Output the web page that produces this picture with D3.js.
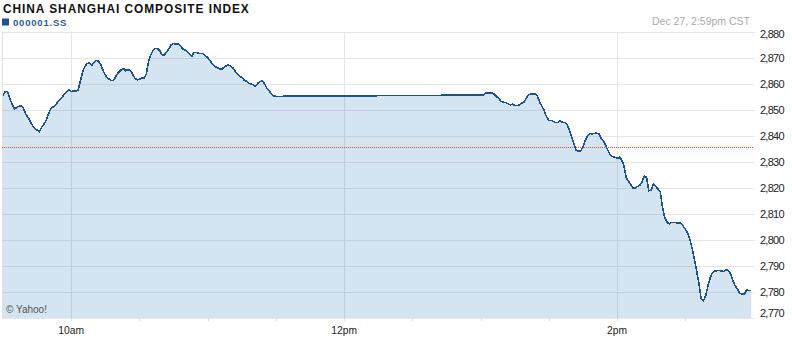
<!DOCTYPE html>
<html>
<head>
<meta charset="utf-8">
<script src="https://cdn.jsdelivr.net/npm/d3@7/dist/d3.min.js"></script>
<style>
  html, body { margin: 0; padding: 0; background: #fff; }
  svg { display: block; }
  text { font-family: "Liberation Sans", Arial, sans-serif; }
</style>
</head>
<body>
<svg id="chart" width="792" height="338"></svg>
<script>
// ---- data ----
const title = "CHINA SHANGHAI COMPOSITE INDEX";
const symbol = "000001.SS";
const stamp = "Dec 27, 2:59pm CST";
const credit = "\u00A9 Yahoo!";
const previousClose = 2835.6;

const yTicks = [2770, 2780, 2790, 2800, 2810, 2820, 2830, 2840, 2850, 2860, 2870, 2880];
const xLabelTimes = ["10:00", "12:00", "14:00"];
const xLabels = ["10am", "12pm", "2pm"];
const xMinorTimes = ["10:00", "10:30", "11:00", "11:30", "12:00", "12:30", "13:00", "13:30", "14:00", "14:30"];

// morning session 09:30 - 11:30 (one value per minute)
const morningStart = "09:30";
const morningValues = [
  2855.4, 2857.0, 2857.0, 2854.2, 2852.2, 2850.3, 2850.7, 2851.3, 2851.6, 2850.5,
  2848.4, 2847.0, 2845.5, 2843.8, 2842.9, 2842.1, 2841.5, 2843.3, 2844.4, 2845.9,
  2848.3, 2850.4, 2851.0, 2851.6, 2852.8, 2853.8, 2854.7, 2856.0, 2856.9, 2857.6,
  2857.0, 2857.1, 2857.2, 2857.3, 2860.8, 2864.5, 2866.5, 2867.7, 2868.0, 2867.0,
  2868.2, 2868.9, 2868.6, 2867.3, 2865.0, 2863.3, 2862.1, 2861.5, 2861.1, 2861.6,
  2863.5, 2864.4, 2865.3, 2865.8, 2864.9, 2865.4, 2865.1, 2863.6, 2862.1, 2861.4,
  2861.6, 2862.2, 2862.2, 2863.6, 2868.4, 2871.0, 2872.7, 2873.5, 2873.4, 2872.6,
  2871.0, 2871.0, 2872.3, 2873.4, 2875.0, 2875.4, 2875.1, 2875.3, 2874.4, 2873.4,
  2872.9, 2872.2, 2871.4, 2870.5, 2872.0, 2871.9, 2871.6, 2871.5, 2871.5, 2870.6,
  2870.0, 2868.8, 2867.6, 2866.6, 2866.2, 2865.8, 2865.4, 2866.2, 2866.7, 2867.2,
  2866.8, 2866.1, 2864.9, 2863.7, 2863.0, 2862.3, 2861.4, 2860.9, 2860.1, 2859.9,
  2859.5, 2858.9, 2860.1, 2860.7, 2861.1, 2860.0, 2858.3, 2857.4, 2856.0, 2855.2,
  2855.1
];

// afternoon session 13:00 - 14:59 (one value per minute)
const afternoonStart = "13:00";
const afternoonValues = [
  2855.6, 2855.6, 2856.3, 2856.4, 2856.4, 2856.5, 2856.0, 2855.0, 2854.3, 2853.2,
  2852.9, 2852.7, 2852.3, 2851.8, 2852.1, 2851.6, 2851.5, 2851.8, 2852.5, 2852.8,
  2854.3, 2855.5, 2856.1, 2855.9, 2856.2, 2855.2, 2852.8, 2851.2, 2849.6, 2847.2,
  2845.9, 2845.9, 2845.5, 2845.0, 2845.1, 2845.7, 2845.1, 2845.0, 2844.4, 2842.2,
  2839.5, 2837.1, 2834.5, 2834.0, 2834.2, 2835.5, 2838.0, 2839.8, 2840.8, 2840.7,
  2840.8, 2841.0, 2840.7, 2839.0, 2838.0, 2836.3, 2834.3, 2832.6, 2832.0, 2831.8,
  2831.3, 2831.7, 2830.8, 2828.5, 2824.0, 2822.5, 2821.2, 2819.8, 2820.0, 2820.5,
  2820.9, 2822.2, 2824.6, 2824.0, 2818.8, 2819.2, 2821.5, 2820.5, 2819.5, 2818.5,
  2812.5, 2808.5, 2806.7, 2806.2, 2806.7, 2806.7, 2806.6, 2806.4, 2806.4, 2805.4,
  2804.2, 2802.6, 2800.2, 2796.8, 2792.5, 2788.2, 2783.2, 2777.3, 2776.7, 2778.6,
  2782.4, 2785.6, 2787.5, 2788.0, 2788.2, 2788.2, 2788.0, 2787.8, 2788.6, 2788.1,
  2786.8, 2784.3, 2782.2, 2781.1, 2779.4, 2779.3, 2779.0, 2780.8, 2780.5, 2780.5
];

const domainStart = "09:30";
const domainEnd = "15:00";

// ---- build ----
const parse = d3.timeParse("%H:%M");
function series(start, vals) {
  const t0 = parse(start);
  return vals.map((v, i) => ({ t: d3.timeMinute.offset(t0, i), v }));
}
const data = series(morningStart, morningValues).concat(series(afternoonStart, afternoonValues));

const svg = d3.select("#chart");
const plot = { left: 2, right: 753, top: 31.5, bottom: 318 };

const x = d3.scaleTime().domain([parse(domainStart), parse(domainEnd)]).range([3, 753.5]);
const y = d3.scaleLinear().domain([2770, 2880]).range([plot.bottom, plot.top]);

// horizontal gridlines
svg.append("g").selectAll("line").data(yTicks).join("line")
  .attr("x1", plot.left).attr("x2", 755)
  .attr("y1", d => Math.round(y(d)) + 0.5).attr("y2", d => Math.round(y(d)) + 0.5)
  .attr("stroke", "#e6e6e6").attr("stroke-width", 1);

// vertical gridlines
svg.append("g").selectAll("line").data(xLabelTimes).join("line")
  .attr("x1", d => Math.round(x(parse(d))) + 0.5).attr("x2", d => Math.round(x(parse(d))) + 0.5)
  .attr("y1", plot.top).attr("y2", plot.bottom)
  .attr("stroke", "#e6e6e6").attr("stroke-width", 1);

// left border
svg.append("line")
  .attr("x1", plot.left + 0.5).attr("x2", plot.left + 0.5)
  .attr("y1", plot.top).attr("y2", plot.bottom)
  .attr("stroke", "#e2e2e2");

// area
const area = d3.area().x(d => x(d.t)).y0(y(2770)).y1(d => y(d.v));
svg.append("path").datum(data)
  .attr("d", area)
  .attr("fill", "#2f7ab8").attr("fill-opacity", 0.2);

// previous close dotted line
svg.append("line")
  .attr("x1", plot.left).attr("x2", plot.right)
  .attr("y1", Math.round(y(previousClose)) + 0.5).attr("y2", Math.round(y(previousClose)) + 0.5)
  .attr("stroke", "#e0501a").attr("stroke-width", 1).attr("stroke-dasharray", "1,1");

// price line
const line = d3.line().x(d => x(d.t)).y(d => y(d.v));
svg.append("path").datum(data)
  .attr("d", line)
  .attr("fill", "none").attr("stroke", "#1c5290").attr("stroke-width", 1.6)
  .attr("shape-rendering", "crispEdges");

// x minor ticks
svg.append("g").selectAll("line").data(xMinorTimes).join("line")
  .attr("x1", d => Math.round(x(parse(d))) + 0.5).attr("x2", d => Math.round(x(parse(d))) + 0.5)
  .attr("y1", plot.bottom).attr("y2", plot.bottom + 3)
  .attr("stroke", "#dddddd");

// x labels
svg.append("g").selectAll("text").data(xLabelTimes).join("text")
  .attr("x", d => x(parse(d)))
  .attr("y", 334)
  .attr("text-anchor", "middle")
  .attr("font-size", "10.3px")
  .attr("fill", "#222")
  .text((d, i) => xLabels[i]);

// y labels (right)
const fmt = d3.format(",");
svg.append("g").selectAll("text").data(yTicks).join("text")
  .attr("x", 760)
  .attr("y", d => Math.max(34.2, Math.min(313.3, y(d))) + 4)
  .attr("font-size", "11px")
  .attr("letter-spacing", "-0.75px")
  .attr("fill", "#222")
  .text(d => fmt(d));

// title
svg.append("text")
  .attr("x", 3).attr("y", 13.3)
  .attr("font-size", "11.9px").attr("font-weight", "bold")
  .attr("letter-spacing", "0.95px")
  .attr("fill", "#111")
  .text(title);

// symbol legend
svg.append("rect")
  .attr("x", 2).attr("y", 18.5).attr("width", 7).attr("height", 7)
  .attr("fill", "#1c5290");
svg.append("text")
  .attr("x", 13).attr("y", 25.7)
  .attr("font-size", "9.5px").attr("font-weight", "bold")
  .attr("letter-spacing", "0.8px")
  .attr("fill", "#2a5e96")
  .text(symbol);

// timestamp
svg.append("text")
  .attr("x", 750).attr("y", 25)
  .attr("text-anchor", "end")
  .attr("font-size", "10.5px")
  .attr("fill", "#aaaaaa")
  .text(stamp);

// credit
svg.append("text")
  .attr("x", 6).attr("y", 313.3)
  .attr("font-size", "10px")
  .attr("fill", "#555")
  .text(credit);
</script>
</body>
</html>
